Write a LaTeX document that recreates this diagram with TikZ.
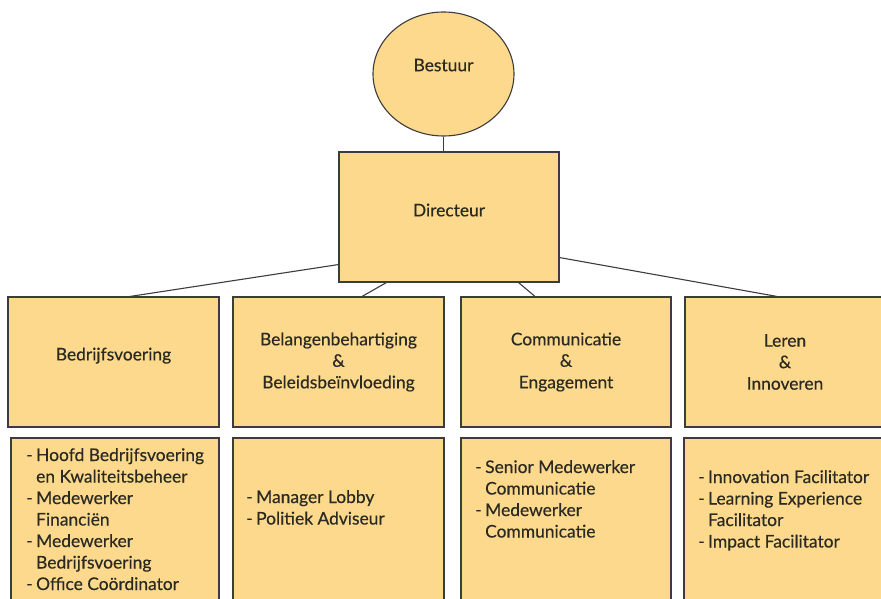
\documentclass[tikz,border=0pt]{standalone}
\usepackage{fontspec}
\setmainfont{Lato}[FakeBold=0.4]
\usetikzlibrary{shapes.geometric}
\definecolor{vak}{HTML}{FCD98C}
\definecolor{rand}{HTML}{3C3C3C}
\definecolor{tekst}{HTML}{2B2A22}
\newcommand{\lijst}[1]{\begin{tabular}[t]{@{}l@{\hspace{3.5pt}}l@{}}#1\end{tabular}}
\begin{document}
\begin{tikzpicture}[x=1pt,y=-1pt,
	vakje/.style={draw=rand,line width=1.1pt,fill=vak,inner sep=0pt,text=tekst,align=center,font=\fontsize{17.4}{21.5}\selectfont},
	lijn/.style={draw=rand,line width=1.1pt},
	lijsttekst/.style={inner sep=0pt,anchor=base west,text=tekst,font=\fontsize{17.4}{21.5}\selectfont}]
		\useasboundingbox (0,0) rectangle (881,599);
		\node[vakje,ellipse,minimum width=141pt,minimum height=124pt] (bestuur) at (443.5,74) {Bestuur\\[-3.5pt]};
		\node[vakje,minimum width=220pt,minimum height=130pt] (directeur) at (449,217) {Directeur\\[-7.5pt]};
		\node[vakje,minimum width=211pt,minimum height=130pt] (bedrijf) at (113.5,362) {Bedrijfsvoering\\[-5.5pt]};
		\node[vakje,minimum width=211pt,minimum height=130pt] (belang) at (338.5,362) {Belangenbehartiging\\\&\\Beleidsbeïnvloeding};
		\node[vakje,minimum width=210pt,minimum height=130pt] (comm) at (566,362) {Communicatie\\\&\\Engagement};
		\node[vakje,minimum width=200pt,minimum height=130pt] (leren) at (785,362) {Leren\\\&\\Innoveren};
		\node[vakje,minimum width=208pt,minimum height=182pt] (bedrijfvak) at (115,529) {};
		\node[vakje,minimum width=211pt,minimum height=182pt] (belangvak) at (338.5,529) {};
		\node[vakje,minimum width=210pt,minimum height=182pt] (commvak) at (566,529) {};
		\node[vakje,minimum width=201pt,minimum height=182pt] (lerenvak) at (784.5,529) {};
		\node[lijsttekst] (bedrijflijst) at (26,461) {\lijst{- & Hoofd Bedrijfsvoering\\ & en Kwaliteitsbeheer\\- & Medewerker\\ & Financiën\\- & Medewerker\\ & Bedrijfsvoering\\- & Office Coördinator}};
		\node[lijsttekst] (belanglijst) at (246,503) {\lijst{- & Manager Lobby\\- & Politiek Adviseur}};
		\node[lijsttekst] (commlijst) at (475,473) {\lijst{- & Senior Medewerker\\ & Communicatie\\- & Medewerker\\ & Communicatie}};
		\node[lijsttekst] (lerenlijst) at (698,483) {\lijst{- & Innovation Facilitator\\- & Learning Experience\\ & Facilitator\\- & Impact Facilitator}};
		\draw[lijn] (bestuur.south) -- (bestuur.south |- directeur.north);
		\draw[lijn] ([yshift=18pt]directeur.south west) -- ([xshift=16.5pt]bedrijf.north);
		\draw[lijn] ([xshift=48pt]directeur.south west) -- ([xshift=23.5pt]belang.north);
		\draw[lijn] ([xshift=-41pt]directeur.south east) -- ([xshift=-31pt]comm.north);
		\draw[lijn] ([yshift=25pt]directeur.south east) -- ([xshift=-8pt]leren.north);
\end{tikzpicture}
\end{document}
